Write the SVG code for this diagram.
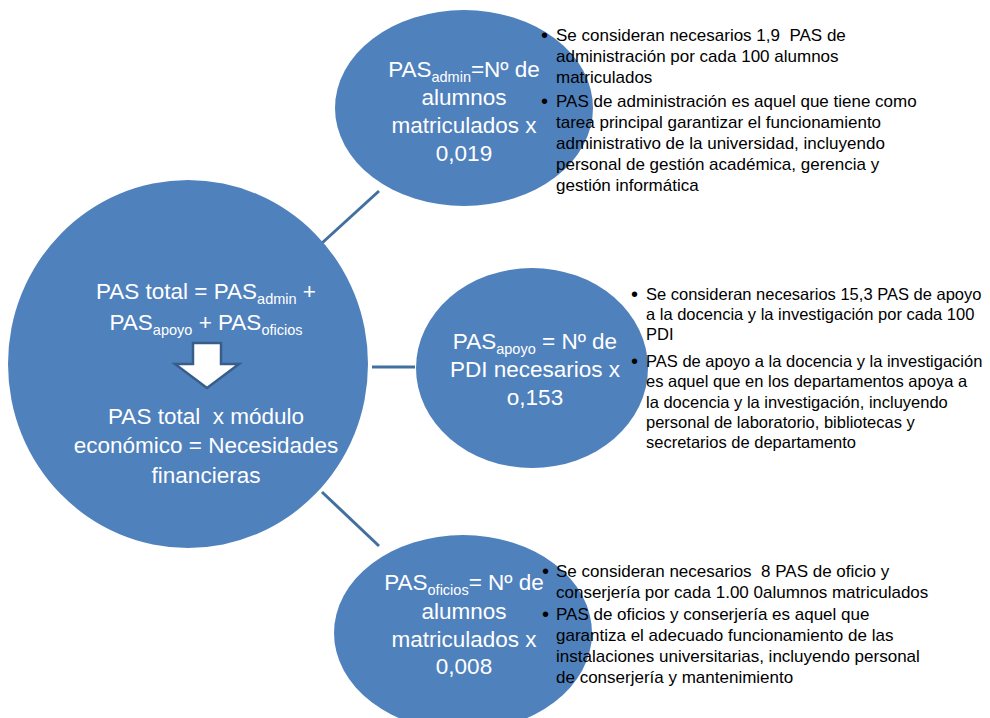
<svg xmlns="http://www.w3.org/2000/svg" width="990" height="718" viewBox="0 0 990 718">
  <style>
    .node { fill: #4f81bd; }
    .ntext { font-family: "Liberation Sans", Arial, sans-serif; font-size: 22.5px; fill: #ffffff; text-anchor: middle; white-space: pre; }
    .sub { font-size: 14.5px; }
    .btext { font-family: "Liberation Sans", Arial, sans-serif; font-size: 17px; fill: #000000; white-space: pre; }
    .btext.sm { font-size: 16.5px; }
    .bul { font-family: "Liberation Sans", Arial, sans-serif; font-size: 20px; fill: #000000; }
    .conn { stroke: #41709f; stroke-width: 3; fill: none; }
  </style>
  <rect width="990" height="718" fill="#ffffff"/>

  <g id="connectors">
    <line class="conn" x1="322" y1="243" x2="379" y2="191"/>
    <line class="conn" x1="372" y1="367" x2="415" y2="367"/>
    <line class="conn" x1="322" y1="492" x2="379" y2="546"/>
  </g>

  <g id="node-total">
    <ellipse class="node" cx="188" cy="364" rx="180" ry="184"/>
    <text class="ntext" x="206" y="299">PAS total = PAS<tspan class="sub" dy="5">admin</tspan><tspan dy="-5"> +</tspan></text>
    <text class="ntext" x="206" y="330">PAS<tspan class="sub" dy="5">apoyo</tspan><tspan dy="-5"> + PAS</tspan><tspan class="sub" dy="5">oficios</tspan></text>
    <polygon points="193,343 221,343 221,364 239,364 207,388 175,364 193,364" fill="#ffffff" stroke="#385d8a" stroke-width="2.5" stroke-linejoin="miter"/>
    <text class="ntext" x="206" y="424">PAS total  x módulo</text>
    <text class="ntext" x="206" y="453">económico = Necesidades</text>
    <text class="ntext" x="206" y="483">financieras</text>
  </g>

  <g id="node-admin">
    <ellipse class="node" cx="464" cy="108" rx="129" ry="98"/>
    <text class="ntext" x="464" y="77">PAS<tspan class="sub" dy="5">admin</tspan><tspan dy="-5">=Nº de</tspan></text>
    <text class="ntext" x="464" y="105">alumnos</text>
    <text class="ntext" x="464" y="133">matriculados x</text>
    <text class="ntext" x="464" y="161">0,019</text>
  </g>

  <g id="node-apoyo">
    <ellipse class="node" cx="532" cy="368" rx="116" ry="100"/>
    <text class="ntext" x="535" y="349">PAS<tspan class="sub" dy="5">apoyo</tspan><tspan dy="-5"> = Nº de</tspan></text>
    <text class="ntext" x="535" y="377">PDI necesarios x</text>
    <text class="ntext" x="535" y="405">o,153</text>
  </g>

  <g id="node-oficios">
    <ellipse class="node" cx="463" cy="633" rx="129" ry="98"/>
    <text class="ntext" x="464" y="590">PAS<tspan class="sub" dy="5">oficios</tspan><tspan dy="-5">= Nº de</tspan></text>
    <text class="ntext" x="464" y="619">alumnos</text>
    <text class="ntext" x="464" y="647">matriculados x</text>
    <text class="ntext" x="464" y="674">0,008</text>
  </g>

  <g id="notes-admin">
    <text class="bul" x="541" y="42">•</text>
    <text class="btext" x="556" y="41">Se consideran necesarios 1,9  PAS de</text>
    <text class="btext" x="556" y="62">administración por cada 100 alumnos</text>
    <text class="btext" x="556" y="83">matriculados</text>
    <text class="bul" x="541" y="108">•</text>
    <text class="btext" x="556" y="107">PAS de administración es aquel que tiene como</text>
    <text class="btext" x="556" y="128">tarea principal garantizar el funcionamiento</text>
    <text class="btext" x="556" y="149">administrativo de la universidad, incluyendo</text>
    <text class="btext" x="556" y="170">personal de gestión académica, gerencia y</text>
    <text class="btext" x="556" y="191">gestión informática</text>
  </g>

  <g id="notes-apoyo">
    <text class="bul" x="631" y="301">•</text>
    <text class="btext sm" x="646" y="300">Se consideran necesarios 15,3 PAS de apoyo</text>
    <text class="btext sm" x="646" y="320">a la docencia y la investigación por cada 100</text>
    <text class="btext sm" x="646" y="340">PDI</text>
    <text class="bul" x="631" y="368">•</text>
    <text class="btext sm" x="646" y="367">PAS de apoyo a la docencia y la investigación</text>
    <text class="btext sm" x="646" y="387">es aquel que en los departamentos apoya a</text>
    <text class="btext sm" x="646" y="408">la docencia y la investigación, incluyendo</text>
    <text class="btext sm" x="646" y="428">personal de laboratorio, bibliotecas y</text>
    <text class="btext sm" x="646" y="448">secretarios de departamento</text>
  </g>

  <g id="notes-oficios">
    <text class="bul" x="542" y="578">•</text>
    <text class="btext" x="556" y="577">Se consideran necesarios  8 PAS de oficio y</text>
    <text class="btext" x="556" y="598">conserjería por cada 1.00 0alumnos matriculados</text>
    <text class="bul" x="542" y="621">•</text>
    <text class="btext" x="556" y="620">PAS de oficios y conserjería es aquel que</text>
    <text class="btext" x="556" y="641">garantiza el adecuado funcionamiento de las</text>
    <text class="btext" x="556" y="662">instalaciones universitarias, incluyendo personal</text>
    <text class="btext" x="556" y="683">de conserjería y mantenimiento</text>
  </g>
</svg>
